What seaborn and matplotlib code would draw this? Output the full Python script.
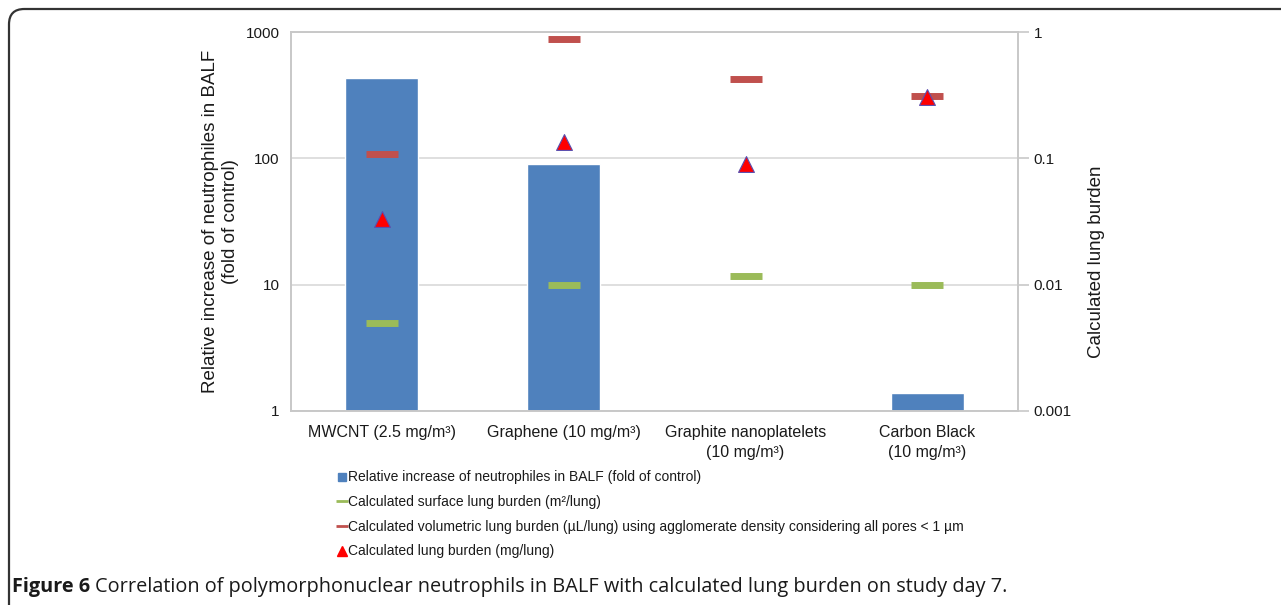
import numpy as np
import pandas as pd
import matplotlib
matplotlib.use("Agg")
import matplotlib.pyplot as plt
from matplotlib.lines import Line2D
from matplotlib.patches import FancyBboxPatch
import seaborn as sns

# ---- data ----
categories = ["MWCNT (2.5 mg/m³)", "Graphene (10 mg/m³)",
              "Graphite nanoplatelets\n(10 mg/m³)", "Carbon Black\n(10 mg/m³)"]
neutrophils = [433, 90, np.nan, 1.39]          # fold of control (left axis)
surface_burden = [0.005, 0.010, 0.0118, 0.010]  # m²/lung (right axis)
volumetric_burden = [0.108, 0.88, 0.425, 0.31]  # µL/lung (right axis)
mass_burden = [0.033, 0.135, 0.090, 0.308]      # mg/lung (right axis)

legend_labels = [
    "Relative increase of neutrophiles in BALF (fold of control)",
    "Calculated surface lung burden (m²/lung)",
    "Calculated volumetric lung burden (µL/lung) using agglomerate density considering all pores < 1 µm",
    "Calculated lung burden (mg/lung)",
]

blue = "#4F81BD"
green = "#9BBB59"
red = "#C0504D"
tri_red = "#FF0000"
txt = "#1a1a1a"
gridc = "#D9D9D9"

sns.set_theme(style="white")
plt.rcParams["font.family"] = ["Liberation Sans", "DejaVu Sans"]

df = pd.DataFrame({"cat": categories, "neut": neutrophils, "surf": surface_burden,
                   "vol": volumetric_burden, "mass": mass_burden})

fig = plt.figure(figsize=(12.81, 6.05), dpi=100)
ax = fig.add_axes([0.227, 0.3207, 0.568, 0.6264])

sns.barplot(data=df, x="cat", y="neut", color=blue, width=0.4, saturation=1,
            ax=ax, zorder=2)
ax.set_yscale("log")
ax.set_ylim(1, 1000)
ax.set_xlim(-0.5, 3.5)
ax.yaxis.set_major_formatter(matplotlib.ticker.FuncFormatter(lambda v, p: f"{v:g}"))
ax.yaxis.set_minor_locator(matplotlib.ticker.NullLocator())
ax.grid(axis="y", color=gridc, linewidth=1.2, zorder=0)
ax.set_axisbelow(True)
ax.set_xlabel("")
ax.set_ylabel("Relative increase of neutrophiles in BALF\n(fold of control)",
              fontsize=13.5, color=txt, linespacing=1.25)
ax.yaxis.set_label_coords(-0.071, 0.5)
ax.tick_params(axis="y", length=0, labelsize=11, colors=txt, pad=8)
ax.tick_params(axis="x", length=0, labelsize=11.5, colors=txt, pad=10)
for lbl in ax.get_xticklabels():
    lbl.set_linespacing(1.4)
for s in ax.spines.values():
    s.set_color("#C8C8C8")
    s.set_linewidth(1.2)

ax2 = ax.twinx()
sns.scatterplot(data=df, x="cat", y="surf", marker="_", s=560, linewidth=5,
                color=green, ax=ax2, zorder=3)
sns.scatterplot(data=df, x="cat", y="vol", marker="_", s=560, linewidth=5,
                color=red, ax=ax2, zorder=3)
sns.scatterplot(data=df, x="cat", y="mass", marker="^", s=130, color=tri_red,
                edgecolor="#5A4FB0", linewidth=0.8, ax=ax2, zorder=4)
ax2.set_yscale("log")
ax2.set_ylim(0.001, 1)
ax2.set_xlim(-0.5, 3.5)
ax2.yaxis.set_major_formatter(matplotlib.ticker.FuncFormatter(lambda v, p: f"{v:g}"))
ax2.yaxis.set_minor_locator(matplotlib.ticker.NullLocator())
ax2.set_ylabel("Calculated lung burden", fontsize=13.5, color=txt)
ax2.yaxis.set_label_coords(1.095, 0.393)
ax2.tick_params(axis="y", length=8, width=1.2, labelsize=11, colors=txt, pad=3)
ax2.tick_params(axis="y", color="#C8C8C8")
for s in ax2.spines.values():
    s.set_color("#C8C8C8")
    s.set_linewidth(1.2)

# legend below the plot
handles = [
    Line2D([], [], marker="s", linestyle="none", color=blue, markersize=6),
    Line2D([], [], marker="_", linestyle="none", color=green, markersize=8, markeredgewidth=2),
    Line2D([], [], marker="_", linestyle="none", color=red, markersize=8, markeredgewidth=2),
    Line2D([], [], marker="^", linestyle="none", color=tri_red, markersize=7),
]
fig.legend(handles, legend_labels, loc="upper left", bbox_to_anchor=(0.258, 0.234),
           frameon=False, fontsize=10, handlelength=0.6, handletextpad=0.15,
           labelspacing=0.77, borderpad=0, labelcolor=txt)

# caption with bold prefix
t1 = fig.text(0.0095, 0.0215, "Figure 6", fontsize=14.3, fontweight="bold",
              family="Open Sans", color=txt, va="baseline")
fig.canvas.draw()
bb = t1.get_window_extent(fig.canvas.get_renderer())
x2 = bb.x1 / fig.bbox.width + 0.004
fig.text(x2, 0.0215, "Correlation of polymorphonuclear neutrophils in BALF with "
         "calculated lung burden on study day 7.", fontsize=14.3,
         family="Open Sans", color=txt, va="baseline")

# rounded frame open to right and bottom
frame = FancyBboxPatch((9 / 1281, -0.1), 1.2, 1.1 - 9 / 605,
                       boxstyle="round,pad=0,rounding_size=0.012",
                       transform=fig.transFigure, fill=False, edgecolor="#333333",
                       linewidth=1.6, mutation_aspect=1281 / 605)
fig.add_artist(frame)

fig.savefig("out.png", dpi=100)
